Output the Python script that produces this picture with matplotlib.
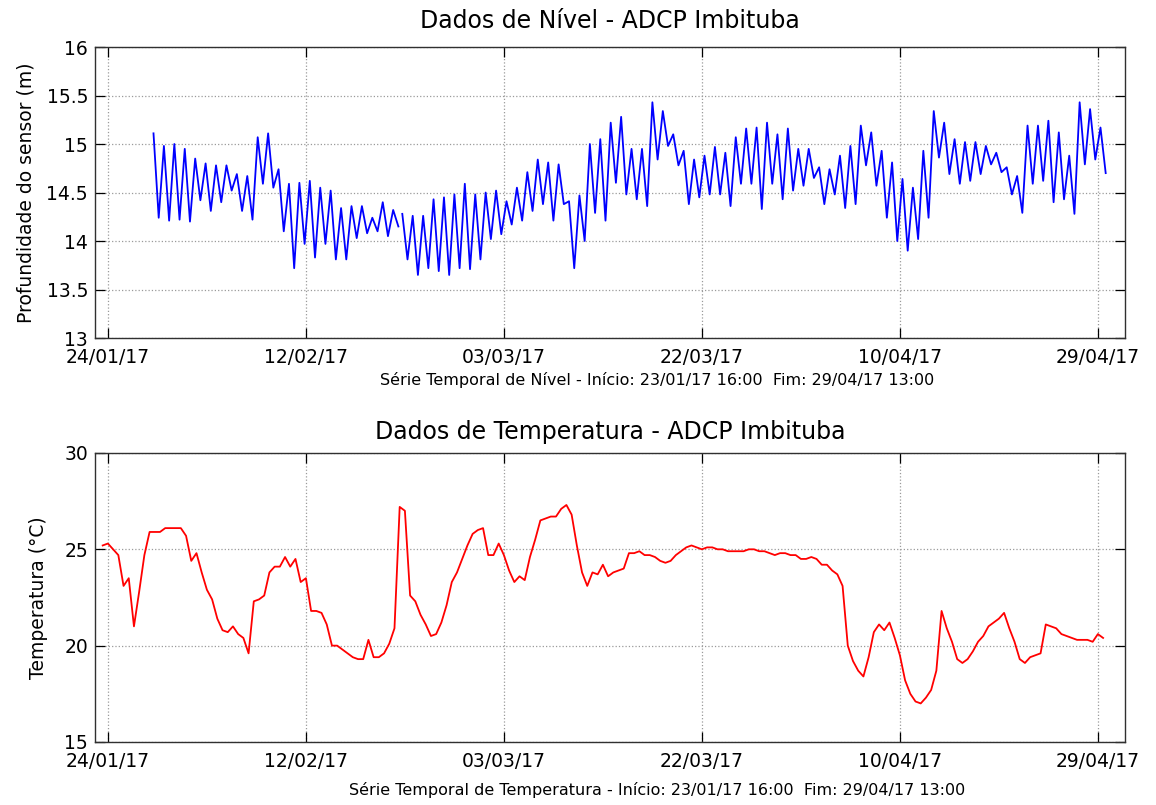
import matplotlib
matplotlib.use('Agg')
import matplotlib.pyplot as plt
import matplotlib.dates as mdates
import numpy as np
import pandas as pd

# ---- dados de nivel (maximos e minimos diarios) ----
# trecho 1: 28/01 a 20/02
nivel_max_1 = [15.11, 14.98, 15.00, 14.95, 14.85, 14.80, 14.78, 14.78, 14.69, 14.67,
               15.07, 15.11, 14.74, 14.59, 14.60, 14.62, 14.55, 14.52, 14.34, 14.36,
               14.36, 14.24, 14.40, 14.32]
nivel_min_1 = [14.24, 14.21, 14.22, 14.20, 14.42, 14.31, 14.40, 14.52, 14.31, 14.22,
               14.59, 14.55, 14.10, 13.72, 13.97, 13.83, 13.97, 13.81, 13.81, 14.03,
               14.08, 14.10, 14.05, 14.15]
# trecho 2: 21/02 a 29/04
nivel_max_2 = [14.28, 14.26, 14.26, 14.43, 14.45, 14.48, 14.59, 14.48, 14.50, 14.52,
               14.41, 14.55, 14.71, 14.84, 14.81, 14.79, 14.41, 14.47, 15.00, 15.05,
               15.22, 15.28, 14.95, 14.95, 15.43, 15.34, 15.10, 14.93, 14.84, 14.88,
               14.97, 14.91, 15.07, 15.16, 15.17, 15.22, 15.10, 15.16, 14.95, 14.95,
               14.76, 14.74, 14.88, 14.98, 15.19, 15.12, 14.93, 14.81, 14.64, 14.55,
               14.93, 15.34, 15.22, 15.05, 15.02, 15.02, 14.98, 14.91, 14.76, 14.67,
               15.19, 15.19, 15.24, 15.12, 14.88, 15.43, 15.36, 15.17]
nivel_min_2 = [13.81, 13.65, 13.72, 13.69, 13.65, 13.72, 13.71, 13.81, 14.02, 14.07,
               14.17, 14.21, 14.31, 14.38, 14.21, 14.38, 13.72, 14.00, 14.29, 14.21,
               14.60, 14.48, 14.43, 14.36, 14.84, 14.98, 14.78, 14.38, 14.45, 14.48,
               14.48, 14.36, 14.59, 14.59, 14.33, 14.59, 14.43, 14.52, 14.57, 14.65,
               14.38, 14.48, 14.34, 14.38, 14.78, 14.57, 14.24, 14.00, 13.90, 14.02,
               14.24, 14.86, 14.69, 14.59, 14.62, 14.69, 14.79, 14.71, 14.48, 14.29,
               14.59, 14.62, 14.40, 14.43, 14.28, 14.79, 14.84, 14.70]
inicio_nivel_1 = '2017-01-28 09:00'
inicio_nivel_2 = '2017-02-21 06:00'

# ---- dados de temperatura (a cada 12 h, a partir de 23/01 12:00) ----
temperatura = [25.2, 25.3, 25.0, 24.7, 23.1, 23.5, 21.0, 22.8, 24.7, 25.9,
               25.9, 25.9, 26.1, 26.1, 26.1, 26.1, 25.7, 24.4, 24.8, 23.8,
               22.9, 22.4, 21.4, 20.8, 20.7, 21.0, 20.6, 20.4, 19.6, 22.3,
               22.4, 22.6, 23.8, 24.1, 24.1, 24.6, 24.1, 24.5, 23.3, 23.5,
               21.8, 21.8, 21.7, 21.1, 20.0, 20.0, 19.8, 19.6, 19.4, 19.3,
               19.3, 20.3, 19.4, 19.4, 19.6, 20.1, 20.9, 27.2, 27.0, 22.6,
               22.3, 21.6, 21.1, 20.5, 20.6, 21.2, 22.1, 23.3, 23.8, 24.5,
               25.2, 25.8, 26.0, 26.1, 24.7, 24.7, 25.3, 24.7, 23.9, 23.3,
               23.6, 23.4, 24.6, 25.5, 26.5, 26.6, 26.7, 26.7, 27.1, 27.3,
               26.8, 25.2, 23.8, 23.1, 23.8, 23.7, 24.2, 23.6, 23.8, 23.9,
               24.0, 24.8, 24.8, 24.9, 24.7, 24.7, 24.6, 24.4, 24.3, 24.4,
               24.7, 24.9, 25.1, 25.2, 25.1, 25.0, 25.1, 25.1, 25.0, 25.0,
               24.9, 24.9, 24.9, 24.9, 25.0, 25.0, 24.9, 24.9, 24.8, 24.7,
               24.8, 24.8, 24.7, 24.7, 24.5, 24.5, 24.6, 24.5, 24.2, 24.2,
               23.9, 23.7, 23.1, 20.0, 19.2, 18.7, 18.4, 19.4, 20.7, 21.1,
               20.8, 21.2, 20.4, 19.5, 18.2, 17.5, 17.1, 17.0, 17.3, 17.7,
               18.7, 21.8, 20.9, 20.2, 19.3, 19.1, 19.3, 19.7, 20.2, 20.5,
               21.0, 21.2, 21.4, 21.7, 20.9, 20.2, 19.3, 19.1, 19.4, 19.5,
               19.6, 21.1, 21.0, 20.9, 20.6, 20.5, 20.4, 20.3, 20.3, 20.3,
               20.2, 20.6, 20.4]
inicio_temp = '2017-01-23 12:00'

# eixo x comum
ticks_x = ['2017-01-24', '2017-02-12', '2017-03-03', '2017-03-22', '2017-04-10', '2017-04-29']
lim_x = ['2017-01-22 18:20', '2017-05-01 14:30']


def intercala(maximos, minimos, inicio):
    # junta maximos e minimos alternados (preamar / baixamar)
    valores = np.ravel(np.column_stack([maximos, minimos]))
    tempo = pd.date_range(inicio, periods=len(valores), freq='12h')
    return tempo, valores


def estilo_eixo(ax):
    # estilo parecido com o MATLAB: ticks para dentro, grade pontilhada
    ax.tick_params(direction='in', length=7, width=0.9, top=True, right=True,
                   labelsize=13.5)
    ax.tick_params(axis='x', pad=7)
    ax.tick_params(axis='y', pad=5)
    ax.grid(True, linestyle=':', color='#9a9a9a', linewidth=0.9)
    for s in ax.spines.values():
        s.set_color('#303030')
        s.set_linewidth(1.0)
    ax.set_xticks(pd.to_datetime(ticks_x))
    ax.xaxis.set_major_formatter(mdates.DateFormatter('%d/%m/%y'))
    ax.set_xlim(pd.to_datetime(lim_x))


plt.rcParams['font.family'] = ['DejaVu Sans']
fig = plt.figure(figsize=(11.56, 8.05), dpi=100)

# ---- grafico de nivel ----
ax1 = fig.add_axes([0.0822, 0.5801, 0.8910, 0.3615])
t1, v1 = intercala(nivel_max_1, nivel_min_1, inicio_nivel_1)
t2, v2 = intercala(nivel_max_2, nivel_min_2, inicio_nivel_2)
ax1.plot(t1, v1, color='#0000ff', linewidth=1.3)
ax1.plot(t2, v2, color='#0000ff', linewidth=1.3)
ax1.set_ylim(13, 16)
ax1.set_yticks([13, 13.5, 14, 14.5, 15, 15.5, 16])
ax1.set_yticklabels(['13', '13.5', '14', '14.5', '15', '15.5', '16'])
estilo_eixo(ax1)
ax1.set_title('Dados de Nível - ADCP Imbituba', fontsize=17, pad=14)
ax1.set_ylabel('Profundidade do sensor (m)', fontsize=13.5, labelpad=8)
ax1.set_xlabel('Série Temporal de Nível - Início: 23/01/17 16:00  Fim: 29/04/17 13:00',
               fontsize=11.5, labelpad=4, x=0.546)

# ---- grafico de temperatura ----
ax2 = fig.add_axes([0.0822, 0.0783, 0.8910, 0.3590])
tt = pd.date_range(inicio_temp, periods=len(temperatura), freq='12h')
ax2.plot(tt, temperatura, color='#ff0000', linewidth=1.3)
ax2.set_ylim(15, 30)
ax2.set_yticks([15, 20, 25, 30])
estilo_eixo(ax2)
ax2.set_title('Dados de Temperatura - ADCP Imbituba', fontsize=17, pad=10)
ax2.set_ylabel('Temperatura (°C)', fontsize=13.5, labelpad=12)
ax2.set_xlabel('Série Temporal de Temperatura - Início: 23/01/17 16:00  Fim: 29/04/17 13:00',
               fontsize=11.5, labelpad=8, x=0.546)

plt.savefig('out.png', dpi=100)
